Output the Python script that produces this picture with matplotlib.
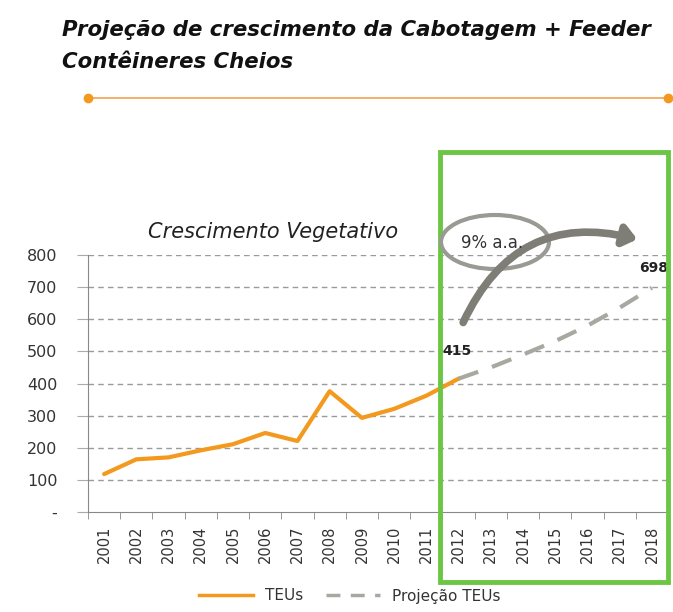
import matplotlib
matplotlib.use("Agg")
import matplotlib.pyplot as plt
from matplotlib.patches import Ellipse, Rectangle, FancyArrowPatch
from matplotlib.lines import Line2D

years = [str(y) for y in range(2001, 2019)]
teus = [118, 164, 170, 192, 211, 246, 221, 376, 293, 321, 362, 415]
proj_years = years[11:]
projecao = [415, 450, 490, 532, 580, 636, 698]
yticks = [0, 100, 200, 300, 400, 500, 600, 700, 800]
ytick_labels = ["-", "100", "200", "300", "400", "500", "600", "700", "800"]

W, H = 673, 612
fig = plt.figure(figsize=(W / 100, H / 100), dpi=100)
fig.patch.set_facecolor("white")

def fx(px):
    return px / W

def fy(py):
    return 1 - py / H

ax = fig.add_axes([fx(88), fy(512), fx(668) - fx(88), fy(255) - fy(512)])
xpos = list(range(len(years)))
ax.plot(xpos[:len(teus)], teus, color="#F39A1E", lw=3, solid_capstyle="round", zorder=3)
ax.plot(xpos[11:11 + len(projecao)], projecao, color="#A8A8A0", lw=3,
        dashes=(5, 3.5), zorder=3)

ax.set_xlim(-0.5, len(years) - 0.5)
ax.set_ylim(0, 800)
ax.set_yticks(yticks)
ax.set_yticklabels(ytick_labels, fontsize=11.5, color="#333333")
ax.set_xticks(xpos)
ax.set_xticklabels(years, rotation=90, fontsize=10.5, color="#333333")
ax.tick_params(axis="x", which="major", length=0, pad=10)
ax.set_xticks([x - 0.5 for x in range(len(years) + 1)], minor=True)
ax.tick_params(axis="x", which="minor", length=5, color="#888888", direction="out")
ax.tick_params(axis="y", length=8, color="#AAAAAA", direction="out", pad=14)
for y in yticks[1:]:
    ax.axhline(y, color="#9A9A9A", lw=1, dashes=(4, 3), zorder=1)
for s in ["top", "right"]:
    ax.spines[s].set_visible(False)
ax.spines["left"].set_color("#888888")
ax.spines["bottom"].set_color("#888888")
ax.set_facecolor("none")

ax.annotate("415", (11, 415), xytext=(-1, 15), textcoords="offset points",
            ha="center", va="bottom", fontsize=10, fontweight="bold", color="#222222")
ax.annotate("698", (17, 698), xytext=(1, 9), textcoords="offset points",
            ha="center", va="bottom", fontsize=10, fontweight="bold", color="#222222")

# Title
fig.text(fx(62), fy(30), "Projeção de crescimento da Cabotagem + Feeder",
         fontsize=15.3, fontweight="bold", style="italic", family="DejaVu Sans",
         color="#111111", va="center", ha="left")
fig.text(fx(62), fy(62), "Contêineres Cheios",
         fontsize=15.3, fontweight="bold", style="italic", family="DejaVu Sans",
         color="#111111", va="center", ha="left")
fig.add_artist(Line2D([fx(88), fx(668)], [fy(98), fy(98)], color="#F5A050", lw=1.2))
fig.add_artist(Line2D([fx(88), fx(668)], [fy(98), fy(98)], color="#F39A1E", lw=0,
                      marker="o", markersize=6))

fig.text(fx(148), fy(232), "Crescimento Vegetativo", fontsize=15, style="italic",
         color="#222222", va="center", ha="left")

# Green highlight box
fig.add_artist(Rectangle((fx(440), fy(582)), fx(668) - fx(440), fy(152) - fy(582),
                         transform=fig.transFigure, fill=False, edgecolor="#6CC644", lw=3.5))

# Ellipse with 9% a.a.
fig.add_artist(Ellipse((fx(495), fy(242)), fx(108), 54 / H, transform=fig.transFigure,
                       fill=False, edgecolor="#9A9A94", lw=3))
fig.text(fx(492), fy(243), "9% a.a.", fontsize=12, color="#333333",
         va="center", ha="center")

# Curved arrow
arr = FancyArrowPatch((fx(462), fy(325)), (fx(640), fy(240)), transform=fig.transFigure,
                      connectionstyle="arc3,rad=-0.42",
                      arrowstyle="-|>,head_length=2.5,head_width=2",
                      color="#7E7E76", lw=5.5, mutation_scale=3)
fig.add_artist(arr)

# Legend
handles = [Line2D([0], [0], color="#F39A1E", lw=2.5),
           Line2D([0], [0], color="#A8A8A0", lw=2.5, dashes=(4, 3))]
fig.legend(handles, ["TEUs", "Projeção TEUs"], loc="center", bbox_to_anchor=(fx(350), fy(596)),
           ncol=2, frameon=False, fontsize=11, handlelength=3.5, columnspacing=1.5,
           labelcolor="#333333")

fig.savefig("out.png", dpi=100)
